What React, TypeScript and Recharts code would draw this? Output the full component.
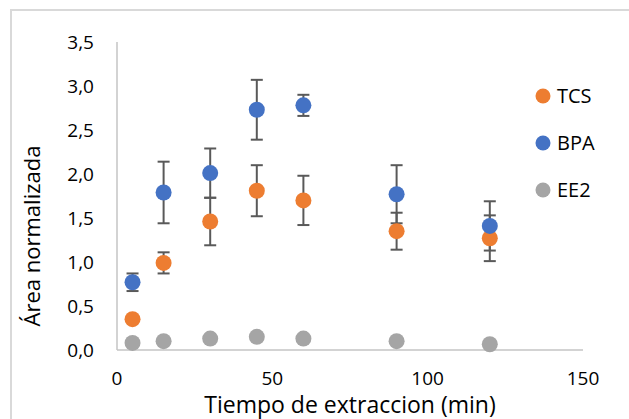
import {
  ScatterChart,
  Scatter,
  XAxis,
  YAxis,
  ErrorBar,
  Legend,
  Label,
} from 'recharts'

// extraction time (min)
const times = [5, 15, 30, 45, 60, 90, 120]

// normalised area per compound, with error (± sd)
const tcs = [0.35, 0.99, 1.46, 1.81, 1.7, 1.35, 1.27]
const tcsErr = [0, 0.12, 0.27, 0.29, 0.28, 0.21, 0.26]
const bpa = [0.77, 1.79, 2.01, 2.73, 2.78, 1.77, 1.41]
const bpaErr = [0.1, 0.35, 0.28, 0.34, 0.12, 0.33, 0.28]
const ee2 = [0.08, 0.1, 0.13, 0.15, 0.13, 0.1, 0.065]

const xTicks = [0, 50, 100, 150]
const yTicks = [0, 0.5, 1, 1.5, 2, 2.5, 3, 3.5]

const FONT = '"Open Sans", sans-serif'
const AXIS_COLOR = '#c4c4c4'
const ERR_COLOR = '#595959'

const toPoints = (vals: number[], errs?: number[]) =>
  times.map((t, i) => ({ x: t, y: vals[i], err: errs ? errs[i] : 0 }))

const series = [
  { name: 'TCS', color: '#ED7D31', data: toPoints(tcs, tcsErr), hasErr: true },
  { name: 'BPA', color: '#4472C4', data: toPoints(bpa, bpaErr), hasErr: true },
  { name: 'EE2', color: '#A5A5A5', data: toPoints(ee2), hasErr: false },
]
const seriesOrder = series.map((s) => s.name)

const fmt = (v: number) => v.toFixed(1).replace('.', ',')

function Dot(props: any) {
  const { cx, cy, fill } = props
  if (cx == null || cy == null) return null
  return <circle cx={cx} cy={cy} r={8} fill={fill} />
}

function LegendList({ payload }: any) {
  // keep the series order (legend sorts by name otherwise)
  const items = [...(payload || [])].sort(
    (a: any, b: any) => seriesOrder.indexOf(a.value) - seriesOrder.indexOf(b.value),
  )
  return (
    <div style={{ fontFamily: FONT, fontSize: 20, color: '#000' }}>
      {items.map((p: any) => (
        <div
          key={p.value}
          style={{ display: 'flex', alignItems: 'center', height: 47 }}
        >
          <svg width={16} height={16} style={{ marginRight: 6 }}>
            <circle cx={8} cy={8} r={7.5} fill={p.color} />
          </svg>
          <span>{p.value}</span>
        </div>
      ))}
    </div>
  )
}

export default function App() {
  return (
    <div
      style={{
        position: 'relative',
        width: 629,
        height: 419,
        overflow: 'hidden',
        background: '#fff',
      }}
    >
      <style>{'body{margin:0}'}</style>
      <div
        style={{
          position: 'absolute',
          left: 10,
          top: 9,
          width: 700,
          height: 500,
          border: '2px solid #d9d9d9',
        }}
      />
      <div style={{ position: 'absolute', left: 0, top: 0 }}>
        <ScatterChart
          width={629}
          height={419}
          margin={{ top: 42, right: 46, bottom: 0, left: 0 }}
        >
          <XAxis
            type="number"
            dataKey="x"
            domain={[0, 150]}
            ticks={xTicks}
            height={69}
            tickLine={false}
            tickMargin={16}
            axisLine={{ stroke: AXIS_COLOR, strokeWidth: 1.5 }}
            tick={{ fill: '#000', fontSize: 19, fontFamily: FONT }}
          >
            <Label
              value="Tiempo de extraccion (min)"
              position="insideBottom"
              offset={6}
              style={{ fill: '#000', fontSize: 23, fontFamily: FONT }}
            />
          </XAxis>
          <YAxis
            type="number"
            dataKey="y"
            domain={[0, 3.5]}
            ticks={yTicks}
            width={117}
            tickLine={false}
            tickMargin={17}
            tickFormatter={fmt}
            axisLine={{ stroke: AXIS_COLOR, strokeWidth: 1.5 }}
            tick={{ fill: '#000', fontSize: 19, fontFamily: FONT }}
          >
            <Label
              value="Área normalizada"
              angle={-90}
              position="center"
              dx={-26}
              dy={40}
              style={{ fill: '#000', fontSize: 22, fontFamily: FONT, textAnchor: 'middle' }}
            />
          </YAxis>
          <Legend
            layout="horizontal"
            verticalAlign="middle"
            align="center"
            width={90}
            content={<LegendList />}
            wrapperStyle={{ left: 535, top: 72, width: 90 }}
          />
          {series.map((s) => (
            <Scatter
              key={s.name}
              name={s.name}
              data={s.data}
              fill={s.color}
              shape={<Dot />}
              isAnimationActive={false}
            >
              {s.hasErr && (
                <ErrorBar
                  dataKey="err"
                  direction="y"
                  width={6}
                  stroke={ERR_COLOR}
                  strokeWidth={2}
                  isAnimationActive={false}
                />
              )}
            </Scatter>
          ))}
        </ScatterChart>
      </div>
    </div>
  )
}
